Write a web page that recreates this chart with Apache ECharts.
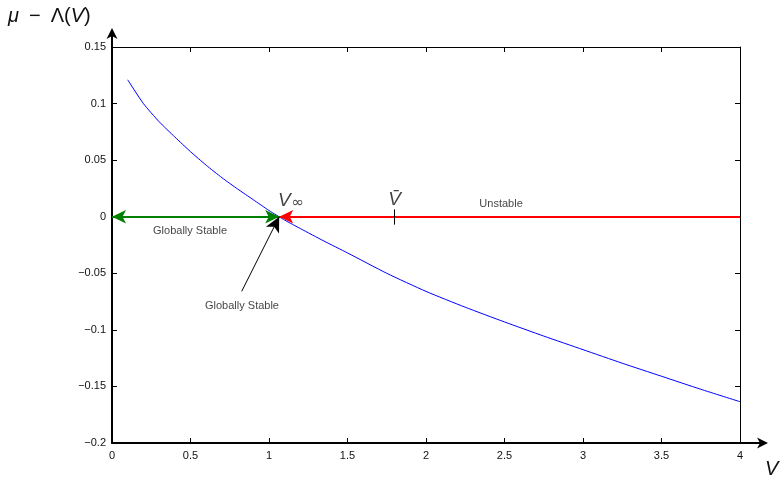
<!DOCTYPE html>
<html>
<head>
<meta charset="utf-8">
<script src="https://cdn.jsdelivr.net/npm/echarts@6/dist/echarts.min.js"></script>
<style>
  html, body { margin: 0; padding: 0; background: #fff; }
  #chart { width: 781px; height: 477px; }
</style>
</head>
<body>
<div id="chart"></div>
<script>
// Curve mu - Lambda(V) sampled along V
const vValues = [0.1, 0.2, 0.3, 0.4, 0.5, 0.6, 0.7, 0.8, 0.9, 1.0, 1.1, 1.2, 1.35, 1.5, 1.75, 2.0, 2.25, 2.5, 2.75, 3.0, 3.25, 3.5, 3.75, 4.0];
const gapValues = [0.121, 0.100, 0.084, 0.0705, 0.0575, 0.0455, 0.0345, 0.0245, 0.0150, 0.0055, -0.0030, -0.0105, -0.0215, -0.0320, -0.0500, -0.0660, -0.0800, -0.0930, -0.1055, -0.1175, -0.1295, -0.1410, -0.1525, -0.1635];

// Special points on the V axis
const vInf = 1.065;   // equilibrium V_infinity
const vBar = 1.8;     // threshold V-bar
const vMax = 4;

// Axis ticks
const xTicks = { min: 0, max: 4, step: 0.5 };
const yTicks = { min: -0.2, max: 0.15, step: 0.05 };

// Annotation texts: [V, value, text]
const notes = [
  [0.497, -0.0126, 'Globally Stable'],
  [0.828, -0.0785, 'Globally Stable'],
  [2.478, 0.0113, 'Unstable']
];
// Start of the black pointer arrow
const pointerFrom = [0.826, -0.0660];

const FONT = '"Liberation Sans", Arial, Helvetica, sans-serif';
const fmt = v => {
  const r = Math.round(v * 1000) / 1000;
  return (r < 0 ? '\u2212' : '') + String(Math.abs(r));
};

const chart = echarts.init(document.getElementById('chart'), null, { renderer: 'canvas' });

const tickStyle = { inside: true, length: 5, lineStyle: { color: '#000', width: 1 } };

const option = {
  animation: false,
  backgroundColor: '#fff',
  grid: { left: 112, top: 47, width: 628, height: 396 },
  xAxis: [
    {
      type: 'value', min: xTicks.min, max: xTicks.max, interval: xTicks.step,
      axisLine: { show: true, onZero: false, lineStyle: { color: '#000', width: 2 } },
      axisTick: tickStyle,
      axisLabel: { color: '#111', fontFamily: FONT, fontSize: 11, margin: 7, formatter: fmt },
      splitLine: { show: false }
    },
    {
      type: 'value', position: 'top', min: xTicks.min, max: xTicks.max, interval: xTicks.step,
      axisLine: { show: true, onZero: false, lineStyle: { color: '#000', width: 1 } },
      axisTick: tickStyle, axisLabel: { show: false }, splitLine: { show: false }
    }
  ],
  yAxis: [
    {
      type: 'value', min: yTicks.min, max: yTicks.max, interval: yTicks.step,
      axisLine: { show: true, onZero: false, lineStyle: { color: '#000', width: 2 } },
      axisTick: tickStyle,
      axisLabel: { color: '#111', fontFamily: FONT, fontSize: 11, margin: 6, formatter: fmt },
      splitLine: { show: false }
    },
    {
      type: 'value', position: 'right', min: yTicks.min, max: yTicks.max, interval: yTicks.step,
      axisLine: { show: true, onZero: false, lineStyle: { color: '#000', width: 1 } },
      axisTick: tickStyle, axisLabel: { show: false }, splitLine: { show: false }
    }
  ],
  series: [
    {
      // green double arrow: globally stable region left of V_inf
      type: 'line', data: [], silent: true,
      markLine: {
        silent: true, animation: false,
        symbol: ['arrow', 'arrow'], symbolSize: [10, 14],
        label: { show: false },
        lineStyle: { color: '#008000', width: 2, type: 'solid' },
        data: [[{ coord: [xTicks.min, 0] }, { coord: [vInf, 0] }]]
      }
    },
    {
      // red arrow: unstable side pointing back to V_inf
      type: 'line', data: [], silent: true,
      markLine: {
        silent: true, animation: false,
        symbol: ['none', 'arrow'], symbolSize: [10, 14],
        label: { show: false },
        lineStyle: { color: '#ff0000', width: 2, type: 'solid' },
        data: [[{ coord: [vMax, 0] }, { coord: [vInf, 0] }]]
      }
    },
    {
      // the curve itself
      type: 'line', name: 'gap',
      data: vValues.map((v, i) => [v, gapValues[i]]),
      showSymbol: false, symbol: 'none', smooth: 0.2,
      lineStyle: { color: '#0000ff', width: 1 },
      z: 3
    },
    {
      // black pointer arrow and the V-bar tick
      type: 'line', data: [], silent: true, z: 4,
      markLine: {
        silent: true, animation: false,
        label: { show: false },
        lineStyle: { color: '#000', width: 1, type: 'solid' },
        data: [
          [{ coord: pointerFrom, symbol: 'none' }, { coord: [vInf, 0], symbol: 'arrow', symbolSize: [11, 15] }],
          [{ coord: [vBar, 0.0065], symbol: 'none' }, { coord: [vBar, -0.0070], symbol: 'none' }]
        ]
      }
    },
    {
      // text annotations
      type: 'scatter', silent: true, symbolSize: 0,
      data: notes.map(n => ({ value: [n[0], n[1]], name: n[2] })),
      label: {
        show: true, position: 'inside', formatter: '{b}',
        color: '#111', fontFamily: FONT, fontSize: 11
      }
    },
    {
      // V_inf and V-bar symbols
      type: 'scatter', silent: true, symbolSize: 0,
      data: [
        { value: [vInf + 0.075, 0.0155], name: 'inf' },
        { value: [vBar, 0.0165], name: 'bar' }
      ],
      label: {
        show: true, position: 'inside',
        formatter: p => p.name === 'inf' ? '{v|V}{s|\u221E}' : '{v|V\u0304}',
        rich: {
          v: { fontFamily: FONT, fontStyle: 'italic', fontSize: 19, color: '#111', verticalAlign: 'bottom', lineHeight: 22 },
          s: { fontFamily: '"DejaVu Sans", sans-serif', fontSize: 15, color: '#111', verticalAlign: 'bottom', lineHeight: 17, padding: [0, 0, 0, 1] }
        }
      }
    }
  ]
};

chart.setOption(option);

// Axis extensions with arrowheads, plus the axis names
const [x0, yTop] = chart.convertToPixel({ gridIndex: 0 }, [xTicks.min, yTicks.max]);
const [xEnd, yBot] = chart.convertToPixel({ gridIndex: 0 }, [xTicks.max, yTicks.min]);
const headLen = 11, headHalf = 5.5;
chart.setOption({
  graphic: [
    { type: 'line', shape: { x1: x0, y1: yTop, x2: x0, y2: yTop - 14 }, style: { stroke: '#000', lineWidth: 2 } },
    { type: 'polygon', shape: { points: [[x0, yTop - 19], [x0 - headHalf, yTop - 19 + headLen], [x0, yTop - 19 + headLen - 3], [x0 + headHalf, yTop - 19 + headLen]] }, style: { fill: '#000' } },
    { type: 'line', shape: { x1: xEnd, y1: yBot, x2: xEnd + 22, y2: yBot }, style: { stroke: '#000', lineWidth: 2 } },
    { type: 'polygon', shape: { points: [[xEnd + 28, yBot], [xEnd + 28 - headLen, yBot - headHalf], [xEnd + 28 - headLen + 3, yBot], [xEnd + 28 - headLen, yBot + headHalf]] }, style: { fill: '#000' } },
    {
      type: 'text', left: 8, top: 6,
      style: {
        text: '{i|\u03BC}{n|\u2002\u2212\u2002\u039B(}{i|V}{n|)}',
        rich: {
          i: { fontFamily: FONT, fontStyle: 'italic', fontSize: 20, fill: '#111' },
          n: { fontFamily: FONT, fontSize: 20, fill: '#111' }
        }
      }
    },
    {
      type: 'text', x: xEnd + 25, y: yBot + 16,
      style: { text: 'V', fontFamily: FONT, fontStyle: 'italic', fontSize: 20, fill: '#111' }
    }
  ]
});
</script>
</body>
</html>
